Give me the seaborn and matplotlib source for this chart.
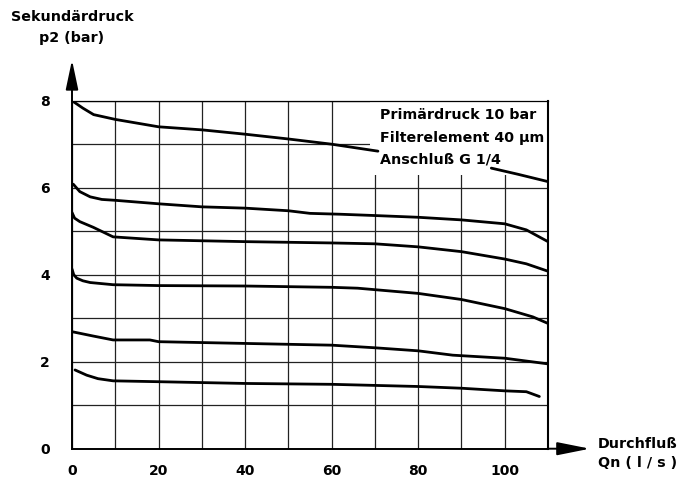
import numpy as np
import pandas as pd
import matplotlib
matplotlib.use("Agg")
import matplotlib.pyplot as plt
import seaborn as sns
from matplotlib.patches import Rectangle

# ---- data ----
# curve 1 (top), interrupted by the label block
q1a = [0, 2.5, 5, 10, 20, 30, 40, 50, 60, 70.7]
p1a = [8.00, 7.83, 7.68, 7.57, 7.40, 7.33, 7.23, 7.12, 7.00, 6.84]
q1b = [96.9, 103, 110]
p1b = [6.45, 6.31, 6.14]
# curve 2
q2 = [0.3, 1.8, 4.2, 6.9, 10, 20, 30, 40, 50, 55, 62, 70, 80, 90, 100, 105, 110]
p2 = [6.08, 5.91, 5.79, 5.73, 5.71, 5.63, 5.56, 5.53, 5.47, 5.41, 5.39, 5.36, 5.32, 5.26, 5.17, 5.03, 4.76]
# curve 3
q3 = [0, 0.6, 1.8, 4.9, 9.5, 20, 40, 60, 70, 80, 90, 100, 105, 110]
p3 = [5.43, 5.30, 5.22, 5.09, 4.87, 4.80, 4.76, 4.73, 4.71, 4.64, 4.53, 4.36, 4.25, 4.08]
# curve 4
q4 = [0, 0.4, 1.1, 2.5, 4.2, 9.5, 20, 40, 60, 66, 80, 90, 100, 106.5, 110]
p4 = [4.13, 4.00, 3.92, 3.86, 3.82, 3.77, 3.75, 3.74, 3.71, 3.69, 3.57, 3.43, 3.22, 3.03, 2.88]
# curve 5
q5 = [0, 4.9, 9.5, 18, 20, 40, 60, 70, 80, 88, 100, 110]
p5 = [2.69, 2.59, 2.50, 2.50, 2.46, 2.42, 2.38, 2.32, 2.25, 2.15, 2.08, 1.95]
# curve 6
q6 = [0.7, 3.4, 6, 9.5, 20, 40, 60, 80, 90, 100, 105, 108]
p6 = [1.81, 1.69, 1.61, 1.56, 1.54, 1.50, 1.48, 1.43, 1.39, 1.33, 1.31, 1.20]

segments = {"1a": (q1a, p1a), "1b": (q1b, p1b), "2": (q2, p2), "3": (q3, p3),
            "4": (q4, p4), "5": (q5, p5), "6": (q6, p6)}

x_major = [0, 20, 40, 60, 80, 100]
x_minor = [10, 30, 50, 70, 90, 110]
y_major = [0, 2, 4, 6, 8]
y_minor = [1, 3, 5, 7]

info_lines = ["Primärdruck 10 bar", "Filterelement 40 μm", "Anschluß G 1/4"]

rows = []
for seg, (qs, ps) in segments.items():
    for q, p in zip(qs, ps):
        rows.append({"seg": seg, "Q": q, "p2": p})
df = pd.DataFrame(rows)

# ---- style ----
sns.set_style("white")
plt.rcParams["font.family"] = ["DejaVu Sans"]
plt.rcParams["font.weight"] = "bold"
plt.rcParams["text.color"] = "black"
plt.rcParams["axes.labelcolor"] = "black"
plt.rcParams["xtick.color"] = "black"
plt.rcParams["ytick.color"] = "black"

fig = plt.figure(figsize=(6.8, 4.82), dpi=100)
ax = fig.add_axes([72 / 680, 1 - 448.7 / 482, 476 / 680, 348 / 482])

grid_c = "#222222"
ax.set_axisbelow(True)

sns.lineplot(data=df, x="Q", y="p2", units="seg", estimator=None, sort=False,
             color="black", lw=2.0, legend=False, ax=ax, zorder=3)

ax.set_xlim(0, 110)
ax.set_ylim(0, 8)
ax.set_xticks(x_major)
ax.set_xticks(x_minor, minor=True)
ax.set_yticks(y_major)
ax.set_yticks(y_minor, minor=True)
ax.set_xticklabels([str(v) for v in x_major])
ax.set_yticklabels([str(v) for v in y_major])
ax.tick_params(axis="x", which="major", length=4.3, width=1.0, color="black",
               pad=7, labelsize=10, labelcolor="black")
ax.tick_params(axis="x", which="minor", length=0)
ax.tick_params(axis="y", which="both", length=5.8, width=1.0, color=grid_c,
               pad=10, labelsize=10, labelcolor="black")
for lab in ax.get_xticklabels() + ax.get_yticklabels():
    lab.set_fontweight("bold")
    lab.set_color("black")
ax.grid(True, which="both", color=grid_c, lw=0.9)
ax.set_xlabel("")
ax.set_ylabel("")

# white block behind the label text (grid hidden there)
ax.add_patch(Rectangle((68.8, 6.30), 110 - 68.8, 8 - 6.30, facecolor="white",
                       edgecolor="none", zorder=1))

for name, sp in ax.spines.items():
    sp.set_visible(True)
    sp.set_color("black")
ax.spines["left"].set_linewidth(1.4)
ax.spines["bottom"].set_linewidth(1.4)
ax.spines["right"].set_linewidth(1.5)
ax.spines["top"].set_linewidth(0.9)

# axis arrows
ax.annotate("", xy=(0, 1.117), xytext=(0, 1.0), xycoords="axes fraction",
            textcoords="axes fraction",
            arrowprops=dict(arrowstyle="-|>,head_length=18,head_width=3.8",
                            mutation_scale=1, lw=1.4, color="black",
                            shrinkA=0, shrinkB=0), annotation_clip=False)
ax.annotate("", xy=(1.088, 0), xytext=(1.0, 0), xycoords="axes fraction",
            textcoords="axes fraction",
            arrowprops=dict(arrowstyle="-|>,head_length=20,head_width=4",
                            mutation_scale=1, lw=1.4, color="black",
                            shrinkA=0, shrinkB=0), annotation_clip=False)

# info text block
for txt, yb in zip(info_lines, [7.57, 7.05, 6.56]):
    ax.text(71.1, yb, txt, ha="left", va="baseline", fontsize=10.3,
            fontweight="bold", color="black", zorder=4)

# axis titles
fig.text(72 / 680, 1 - 17 / 482, "Sekundärdruck", ha="center", va="center",
         fontsize=10.3, fontweight="bold", color="black")
fig.text(72 / 680, 1 - 38 / 482, "p2 (bar)", ha="center", va="center",
         fontsize=10.3, fontweight="bold", color="black")
fig.text(638 / 680, 1 - 443.5 / 482, "Durchfluß", ha="center", va="center",
         fontsize=10.3, fontweight="bold", color="black")
fig.text(638 / 680, 1 - 463 / 482, "Qn ( l / s )", ha="center", va="center",
         fontsize=10.3, fontweight="bold", color="black")

fig.savefig("out.png", dpi=100)
